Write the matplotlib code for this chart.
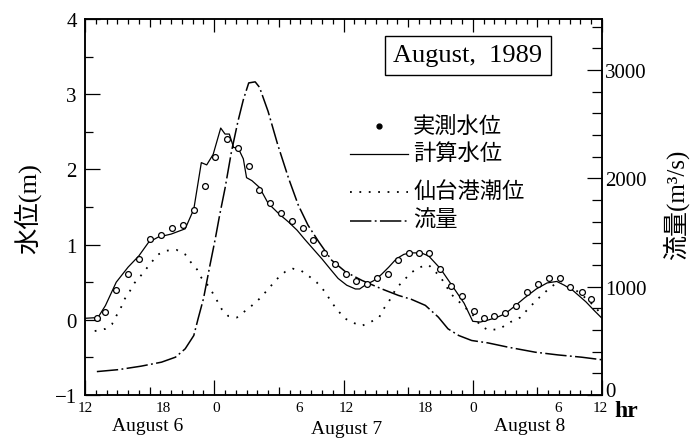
import matplotlib
matplotlib.use("Agg")
import matplotlib.pyplot as plt
import matplotlib.transforms as mtransforms
from matplotlib.lines import Line2D
from matplotlib.ticker import MultipleLocator

SERIF = ["Liberation Serif", "Noto Sans CJK JP"]
plt.rcParams["font.family"] = SERIF
plt.rcParams["axes.unicode_minus"] = True

# Time axis: hours counted from 12:00 on August 6, 1989
obs_hours = [1.1, 1.9, 2.9, 4.0, 5.0, 6.0, 7.1, 8.1, 9.1, 10.1, 11.1, 12.1, 13.2,
             14.2, 15.2, 16.2, 17.2, 18.2, 19.2, 20.2, 21.2, 22.2, 23.2, 24.2,
             25.2, 26.2, 27.1, 28.1, 29.1, 30.1, 31.0, 31.9, 33.0, 34.0, 35.0,
             36.1, 37.0, 38.0, 39.0, 40.0, 41.0, 42.1, 43.1, 44.1, 45.0, 46.1, 47.0]
obs_level = [0.03, 0.11, 0.40, 0.61, 0.81, 1.07, 1.13, 1.22, 1.26, 1.46, 1.78,
             2.16, 2.40, 2.29, 2.05, 1.73, 1.55, 1.42, 1.32, 1.22, 1.06, 0.89,
             0.74, 0.61, 0.51, 0.48, 0.55, 0.61, 0.79, 0.89, 0.89, 0.89, 0.68,
             0.45, 0.32, 0.12, 0.03, 0.05, 0.09, 0.18, 0.37, 0.48, 0.55, 0.55,
             0.44, 0.37, 0.27]

calc_hours = [0.0, 1.2, 1.9, 2.9, 4.0, 5.0, 5.9, 6.8, 8.0, 9.3, 10.1, 10.8, 11.3,
              11.9, 12.6, 13.0, 13.4, 13.8, 14.2, 14.7, 15.0, 15.5, 16.2, 17.0,
              18.0, 18.9, 19.7, 20.4, 21.2, 22.0, 22.8, 23.5, 24.3, 25.1, 25.5,
              26.0, 26.8, 27.5, 28.2, 28.9, 29.6, 30.2, 31.2, 31.9, 33.0, 34.2,
              35.2, 36.0, 36.7, 37.5, 38.2, 39.0, 39.8, 40.8, 41.9, 42.9, 43.8,
              44.5, 45.3, 46.5, 47.3, 48.0]
calc_level = [0.02, 0.03, 0.19, 0.50, 0.70, 0.85, 1.03, 1.10, 1.14, 1.21, 1.47,
              2.09, 2.06, 2.20, 2.55, 2.47, 2.47, 2.29, 2.29, 2.14, 1.89, 1.85,
              1.76, 1.55, 1.41, 1.30, 1.19, 1.07, 0.94, 0.81, 0.67, 0.55, 0.46,
              0.41, 0.41, 0.46, 0.52, 0.60, 0.70, 0.81, 0.87, 0.89, 0.89, 0.85,
              0.68, 0.43, 0.22, -0.02, -0.03, 0.00, 0.03, 0.08, 0.17, 0.29, 0.41,
              0.49, 0.51, 0.46, 0.39, 0.24, 0.12, 0.02]

tide_hours = [0.9, 1.9, 2.5, 2.9, 3.3, 3.7, 4.2, 4.6, 5.2, 5.7, 6.2, 6.8, 7.6, 8.5,
              9.3, 9.8, 10.4, 10.8, 11.3, 11.8, 12.2, 12.7, 13.3, 14.1, 14.8, 15.5,
              16.2, 16.9, 17.8, 18.6, 19.3, 20.1, 20.7, 21.5, 22.3, 22.9, 23.5,
              24.1, 24.9, 25.7, 26.5, 27.3, 27.7, 28.2, 28.9, 29.7, 30.3, 31.1,
              31.9, 33.0, 34.0, 35.1, 36.1, 36.7, 37.5, 38.5, 39.5, 40.4, 41.3,
              42.2, 43.2, 44.1, 45.0, 46.0, 47.0, 47.8]
tide_level = [-0.15, -0.12, -0.06, 0.05, 0.15, 0.28, 0.39, 0.49, 0.59, 0.68, 0.77,
              0.87, 0.92, 0.93, 0.87, 0.77, 0.67, 0.56, 0.48, 0.37, 0.27, 0.14,
              0.05, 0.03, 0.11, 0.19, 0.28, 0.39, 0.54, 0.64, 0.68, 0.65, 0.59,
              0.50, 0.37, 0.23, 0.12, 0.02, -0.04, -0.08, -0.03, 0.03, 0.14, 0.24,
              0.42, 0.54, 0.63, 0.70, 0.73, 0.57, 0.34, 0.19, 0.05, -0.08, -0.14,
              -0.12, -0.03, 0.03, 0.17, 0.30, 0.43, 0.52, 0.45, 0.35, 0.22, 0.10]

flow_hours = [1.1, 3.1, 5.2, 7.1, 8.4, 9.3, 10.1, 10.5, 11.0, 11.6, 12.1, 12.5,
              13.0, 13.6, 14.2, 14.7, 15.2, 15.8, 16.2, 17.0, 17.9, 18.9, 19.8,
              20.7, 21.7, 22.9, 24.2, 25.7, 27.5, 29.1, 30.3, 31.6, 32.8, 33.7,
              34.7, 35.9, 37.4, 39.3, 41.8, 43.9, 46.1, 48.0]
flow_q = [216, 234, 266, 303, 349, 426, 549, 704, 889, 1197, 1444, 1660, 1907,
          2247, 2525, 2725, 2880, 2890, 2840, 2617, 2308, 2000, 1753, 1568, 1414,
          1244, 1136, 1058, 981, 919, 883, 827, 719, 611, 549, 503, 481, 441, 395,
          370, 349, 325]

hour_tick_labels = ["12", "18", "0", "6", "12", "18", "0", "6", "12"]
level_ticks = [-1, 0, 1, 2, 3, 4]
level_tick_labels = ["\u22121", "0", "1", "2", "3", "4"]
flow_ticks = [0, 1000, 2000, 3000]
flow_tick_labels = ["0", "1000", "2000", "3000"]
day_labels = ["August 6", "August 7", "August 8"]
legend_labels = ["実測水位", "計算水位", "仙台港潮位", "流量"]
title_text = "August,  1989"

# ---------------------------------------------------------------- figure
fig = plt.figure(figsize=(6.92, 4.39), dpi=100)
ax = fig.add_axes([85 / 692, 43 / 439, 517 / 692, 376 / 439])
ax2 = ax.twinx()

for a in (ax, ax2):
    for s in a.spines.values():
        s.set_linewidth(1.1)

ax.set_xlim(0, 48)
ax.set_ylim(-1, 4)
ax2.set_ylim(0, 3470)

dotted = (0, (1.0, 4.2))
dashdot = (0, (14, 2.2, 1.2, 2.2))

ax.plot(calc_hours, calc_level, color="black", lw=0.9)
ax.plot(tide_hours, tide_level, color="black", lw=1.3, linestyle=dotted)
ax.plot(obs_hours, obs_level, linestyle="none", marker="o", ms=4.2,
        mfc="white", mec="black", mew=0.9)
ax2.plot(flow_hours, flow_q, color="black", lw=1.1, linestyle=dashdot)
ax.set_zorder(ax2.get_zorder() + 1)
ax.patch.set_visible(False)

# ---------------------------------------------------------------- ticks
ax.xaxis.set_minor_locator(MultipleLocator(1))
ax.yaxis.set_minor_locator(MultipleLocator(0.5))
ax2.yaxis.set_minor_locator(MultipleLocator(200))

ax.tick_params(axis="x", which="both", direction="in", top=True, bottom=True,
               width=0.9, pad=4, labelsize=11)
ax.tick_params(axis="x", which="major", length=5.8)
ax.tick_params(axis="x", which="minor", length=3.4)
ax.tick_params(axis="y", which="both", direction="in", left=True, right=False,
               width=0.9, labelsize=15, pad=6)
ax.tick_params(axis="y", which="major", length=10.5)
ax.tick_params(axis="y", which="minor", length=5.5)
ax2.tick_params(axis="y", which="both", direction="in", width=0.9,
                labelsize=15, pad=2)
ax2.tick_params(axis="y", which="major", length=11)
ax2.tick_params(axis="y", which="minor", length=7)

ax.set_xticks(range(0, 49, 6))
ax.set_xticklabels(hour_tick_labels)
# the 12-hour ticks are drawn longer than the 6-hour ones
for tick in ax.xaxis.get_major_ticks()[::2]:
    tick.tick1line.set_markersize(11)
    tick.tick2line.set_markersize(9)

# horizontal shift (pixels) of each hour label
label_shift_px = [0, 14, 2, 20, 3, 17, 0, 21, -2]
for lab, dx in zip(ax.get_xticklabels(), label_shift_px):
    lab.set_transform(lab.get_transform() +
                      mtransforms.ScaledTranslation(dx / 100, 0, fig.dpi_scale_trans))

ax.set_yticks(level_ticks)
ax.set_yticklabels(level_tick_labels)
ax2.set_yticks(flow_ticks)
ax2.set_yticklabels(flow_tick_labels)
ax2.get_yticklabels()[0].set_transform(
    ax2.get_yticklabels()[0].get_transform()
    + mtransforms.ScaledTranslation(0, 0.055, fig.dpi_scale_trans))

# day names under the hour labels
day_centres = [5.8, 24.3, 41.3]
day_y = [-0.082, -0.088, -0.082]
trans = mtransforms.blended_transform_factory(ax.transData, ax.transAxes)
for name, xc, yy in zip(day_labels, day_centres, day_y):
    ax.text(xc, yy, name, transform=trans, ha="center", va="center",
            fontsize=14)

fig.text(626 / 692, 1 - 412 / 439, "hr", fontsize=17, fontweight="bold",
         ha="center", va="center")

# axis titles
fig.text(27 / 692, 1 - 209 / 439, "水位(m)", rotation=90, ha="center",
         va="center", fontsize=19)
fig.text(676 / 692, 1 - 205 / 439, "流量(m³/s)", rotation=90, ha="center",
         va="center", fontsize=18)

# boxed title
ax.text(0.74, 0.903, title_text, transform=ax.transAxes, ha="center",
        va="center", fontsize=19,
        bbox=dict(boxstyle="square,pad=0.32", fc="white", ec="black", lw=1.0))

# key, drawn in axes fraction
key_x0, key_x1, text_x = 0.513, 0.625, 0.635
key_rows = [0.715, 0.641, 0.540, 0.464]
key_handles = [
    dict(linestyle="none", marker="o", ms=3.5, mfc="black", mec="black"),
    dict(color="black", lw=0.9),
    dict(color="black", lw=1.3, linestyle=dotted),
    dict(color="black", lw=1.1, linestyle=dashdot),
]
for label, yk, style in zip(legend_labels, key_rows, key_handles):
    if style.get("marker"):
        ax.add_line(Line2D([(key_x0 + key_x1) / 2], [yk], transform=ax.transAxes, **style))
    else:
        ax.add_line(Line2D([key_x0, key_x1], [yk, yk], transform=ax.transAxes, **style))
    ax.text(text_x, yk, label, transform=ax.transAxes, ha="left", va="center",
            fontsize=16)

fig.savefig("out.png", dpi=100)
